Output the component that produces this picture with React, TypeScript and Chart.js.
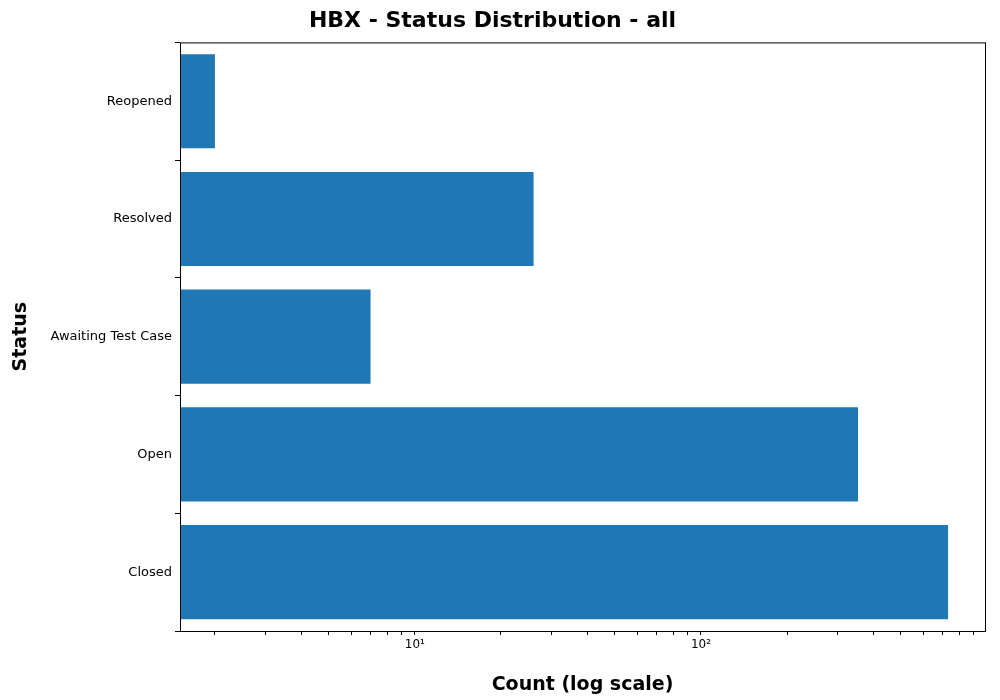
import { useEffect, useRef } from 'react';
import Chart from 'chart.js/auto';

const statuses = ['Reopened', 'Resolved', 'Awaiting Test Case', 'Open', 'Closed'];
const counts = [2, 26, 7, 354, 731];
const xTicks = [2, 3, 4, 5, 6, 7, 8, 9, 10, 20, 30, 40, 50, 60, 70, 80, 90, 100, 200, 300, 400, 500, 600, 700, 800, 900];
const xLabels: Record<number, string> = { 10: '10¹', 100: '10²' };

const FONT = 'DejaVu Sans';

const frame = {
  id: 'frame',
  afterDraw(chart: any) {
    const { ctx, chartArea: a } = chart;
    ctx.save();
    ctx.strokeStyle = '#000';
    ctx.lineWidth = 1;
    ctx.strokeRect(a.left + 0.5, a.top + 0.5, a.right - a.left, a.bottom - a.top);
    ctx.restore();
  },
};

export default function App() {
  const canvasRef = useRef<HTMLCanvasElement>(null);

  useEffect(() => {
    if (!canvasRef.current) return;
    const chart = new Chart(canvasRef.current, {
      type: 'bar',
      data: {
        labels: statuses,
        datasets: [{
          data: counts,
          backgroundColor: '#1f77b4',
          barPercentage: 0.8,
          categoryPercentage: 1,
        }],
      },
      options: {
        indexAxis: 'y',
        animation: false,
        responsive: false,
        layout: { padding: { right: 15, left: 0, bottom: 0 } },
        plugins: {
          legend: { display: false },
          tooltip: { enabled: false },
          title: {
            display: true,
            text: 'HBX - Status Distribution - all',
            color: '#000',
            font: { family: FONT, size: 22, weight: 'bold' },
            padding: { top: 8, bottom: 8 },
          },
        },
        scales: {
          x: {
            type: 'logarithmic',
            min: 1.51,
            max: 984,
            grid: { display: true, drawOnChartArea: false, color: '#000', tickLength: 4 },
            border: { display: false },
            afterBuildTicks: (s: any) => { s.ticks = xTicks.map((v) => ({ value: v })); },
            afterFit: (s: any) => { s.height = 69; },
            ticks: {
              color: '#000',
              autoSkip: false,
              maxRotation: 0,
              font: { family: FONT, size: 12 },
              callback: (v: any) => xLabels[Number(v)] ?? '',
            },
            title: {
              display: true,
              text: 'Count (log scale)',
              color: '#000',
              font: { family: FONT, size: 19, weight: 'bold' },
              padding: { top: 4 },
            },
          },
          y: {
            grid: { display: true, drawOnChartArea: false, color: '#000', tickLength: 5 },
            border: { display: false },
            afterFit: (s: any) => { s.width = 180; },
            ticks: { color: '#000', font: { family: FONT, size: 13 } },
            title: {
              display: true,
              text: 'Status',
              color: '#000',
              font: { family: FONT, size: 19, weight: 'bold' },
              padding: { bottom: 0, top: 10 },
            },
          },
        },
      },
      plugins: [frame],
    });
    return () => chart.destroy();
  }, []);

  return (
    <div style={{ position: 'fixed', left: 0, top: 0, width: 1000, height: 700, background: '#fff' }}>
      <canvas ref={canvasRef} width={1000} height={700}></canvas>
    </div>
  );
}
